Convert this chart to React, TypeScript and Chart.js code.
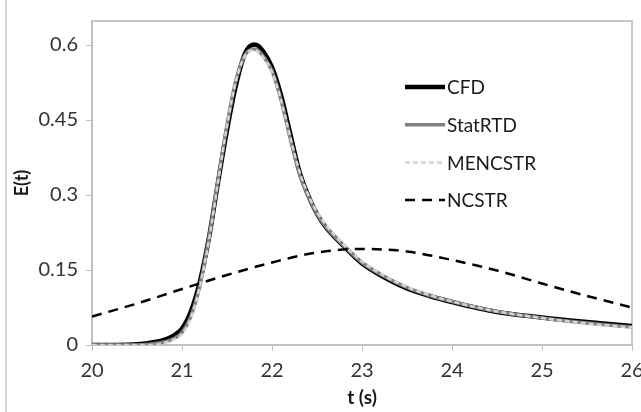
import React, { useEffect, useRef } from "react";
import { Chart, registerables } from "chart.js";

Chart.register(...registerables);

// Time grid (s) for the peaked curves
const tPeak = [20.0, 20.4, 20.6, 20.8, 20.9, 21.0, 21.1, 21.2, 21.3, 21.4, 21.5, 21.6, 21.7, 21.8, 21.85, 21.9, 22.0, 22.1, 22.2, 22.3, 22.4, 22.5, 22.6, 22.7, 22.8, 23.0, 23.25, 23.5, 23.75, 24.0, 24.5, 25.0, 25.5, 26.0];

const cfd = [0, 0.0005, 0.003, 0.01, 0.018, 0.033, 0.068, 0.128, 0.215, 0.325, 0.43, 0.52, 0.583, 0.601, 0.598, 0.588, 0.556, 0.5, 0.425, 0.35, 0.3, 0.262, 0.235, 0.215, 0.197, 0.163, 0.135, 0.113, 0.098, 0.086, 0.066, 0.055, 0.046, 0.038];

const statRTD = [0, 0, 0.001, 0.006, 0.012, 0.025, 0.058, 0.12, 0.215, 0.33, 0.44, 0.53, 0.58, 0.592, 0.588, 0.578, 0.548, 0.49, 0.415, 0.345, 0.298, 0.262, 0.236, 0.216, 0.198, 0.165, 0.137, 0.115, 0.099, 0.087, 0.067, 0.054, 0.044, 0.036];

const mencstr = [0, 0, 0, 0.004, 0.01, 0.022, 0.055, 0.118, 0.21, 0.325, 0.438, 0.528, 0.578, 0.59, 0.586, 0.576, 0.546, 0.49, 0.418, 0.35, 0.302, 0.266, 0.24, 0.219, 0.2, 0.167, 0.138, 0.116, 0.1, 0.087, 0.067, 0.054, 0.043, 0.035];

// NCSTR model curve
const tNcstr = [20, 20.5, 21, 21.5, 22, 22.5, 23, 23.5, 24, 24.5, 25, 25.5, 26];
const ncstr = [0.057, 0.083, 0.112, 0.14, 0.165, 0.185, 0.192, 0.187, 0.17, 0.149, 0.123, 0.098, 0.075];

const xTicks = [20, 21, 22, 23, 24, 25, 26];
const yTicks = [0, 0.15, 0.3, 0.45, 0.6];
const seriesNames = ["CFD", "StatRTD", "MENCSTR", "NCSTR"];

const FONT = "Lato, 'Open Sans', sans-serif";

const pts = (xs: number[], ys: number[]) => xs.map((x, i) => ({ x, y: ys[i] }));

const framePlugin = {
  id: "frame",
  beforeDraw(chart: any) {
    const { ctx, chartArea } = chart;
    ctx.save();
    ctx.strokeStyle = "#c8c8c8";
    ctx.lineWidth = 2;
    ctx.beginPath();
    ctx.moveTo(chartArea.left, chartArea.top);
    ctx.lineTo(chartArea.right, chartArea.top);
    ctx.lineTo(chartArea.right, chartArea.bottom);
    ctx.stroke();
    ctx.lineWidth = 1.5;
    ctx.beginPath();
    ctx.moveTo(6, 0);
    ctx.lineTo(6, chart.height);
    ctx.stroke();
    ctx.restore();
  },
  afterDraw(chart: any) {
    const { ctx, chartArea } = chart;
    const ds = chart.data.datasets;
    const x0 = chartArea.left + 313;
    const y0 = chartArea.top + 66;
    const gap = 37.7;
    ctx.save();
    ds.forEach((d: any, i: number) => {
      const y = y0 + i * gap;
      ctx.beginPath();
      ctx.setLineDash(d.borderDash || []);
      ctx.strokeStyle = d.borderColor;
      ctx.lineWidth = d.borderWidth;
      ctx.moveTo(x0, y);
      ctx.lineTo(x0 + 40, y);
      ctx.stroke();
      ctx.setLineDash([]);
      ctx.fillStyle = "#1a1a1a";
      ctx.font = `19px ${FONT}`;
      ctx.textBaseline = "middle";
      ctx.fillText(d.label, x0 + 42, y + 1);
    });
    ctx.restore();
  },
};

export default function App() {
  const ref = useRef<HTMLCanvasElement>(null);
  useEffect(() => {
    document.body.style.margin = "0";
    const chart = new Chart(ref.current!, {
      type: "line",
      data: {
        datasets: [
          { label: seriesNames[0], data: pts(tPeak, cfd), borderColor: "#000000", borderWidth: 4.5, order: 4 },
          { label: seriesNames[1], data: pts(tPeak, statRTD), borderColor: "#808080", borderWidth: 3.5, order: 3 },
          { label: seriesNames[2], data: pts(tPeak, mencstr), borderColor: "#d4d4d4", borderWidth: 2.5, borderDash: [5, 3], order: 2 },
          { label: seriesNames[3], data: pts(tNcstr, ncstr), borderColor: "#000000", borderWidth: 2.5, borderDash: [10, 7], order: 1 },
        ] as any,
      },
      options: {
        animation: false,
        responsive: false,
        events: [],
        layout: { padding: { left: 0, top: 21, right: 9, bottom: 0 } },
        elements: {
          point: { radius: 0 },
          line: { cubicInterpolationMode: "monotone", fill: false },
        },
        plugins: { legend: { display: false }, tooltip: { enabled: false } },
        scales: {
          x: {
            type: "linear",
            min: 20,
            max: 26,
            afterBuildTicks: (s: any) => { s.ticks = xTicks.map((v) => ({ value: v })); },
            afterFit: (s: any) => { s.height = 67; s.paddingLeft = 0; s.paddingRight = 0; },
            ticks: { color: "#333333", font: { family: FONT, size: 20 }, padding: 8, maxRotation: 0 },
            grid: { drawOnChartArea: false, drawTicks: true, tickLength: 6, tickColor: "#c0c0c0" },
            border: { display: true, color: "#c0c0c0", width: 2 },
            title: { display: true, text: "t (s)", color: "#1a1a1a", font: { family: FONT, size: 19, weight: "bold" }, padding: { top: 0, bottom: 3 } },
          },
          y: {
            type: "linear",
            min: 0,
            max: 0.648,
            afterBuildTicks: (s: any) => { s.ticks = yTicks.map((v) => ({ value: v })); },
            afterFit: (s: any) => { s.width = 92; s.paddingTop = 0; s.paddingBottom = 0; },
            ticks: { color: "#333333", font: { family: FONT, size: 20 }, padding: 8, callback: (v: any) => String(v) },
            grid: { drawOnChartArea: false, drawTicks: true, tickLength: 6, tickColor: "#c0c0c0" },
            border: { display: true, color: "#c0c0c0", width: 2 },
            title: { display: true, text: "E(t)", color: "#1a1a1a", font: { family: FONT, size: 18, weight: "bold" }, padding: { top: 11, bottom: 0 } },
          },
        },
      },
      plugins: [framePlugin],
    });
    return () => chart.destroy();
  }, []);
  return <canvas ref={ref} width={641} height={412} style={{ display: "block" }} />;
}
